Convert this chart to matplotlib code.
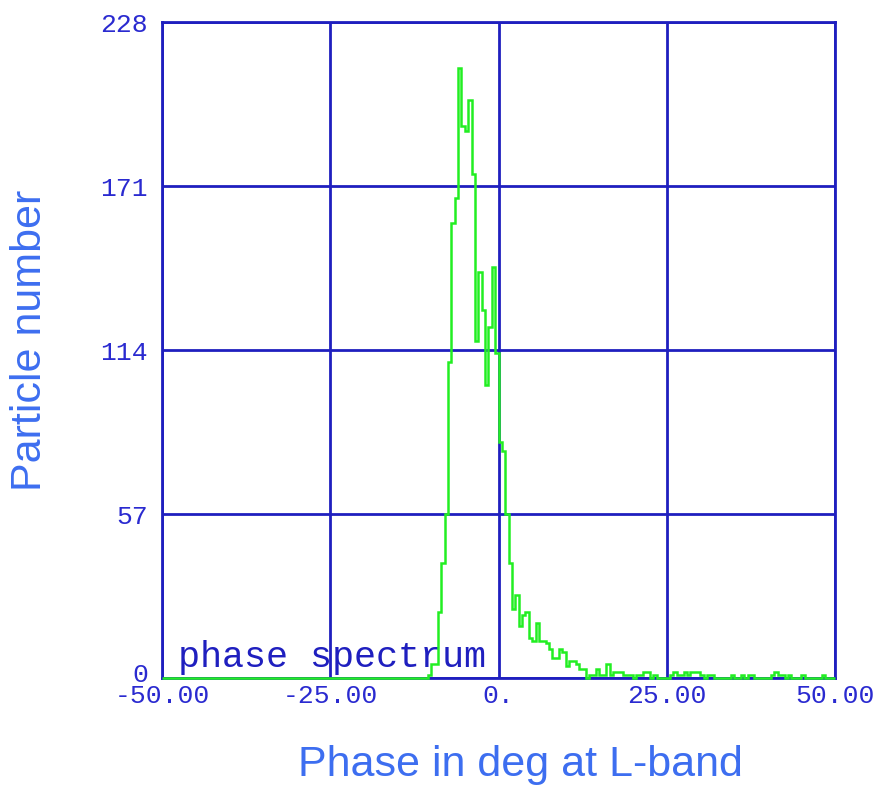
import numpy as np
import matplotlib
matplotlib.use("Agg")
import matplotlib.pyplot as plt
from matplotlib.transforms import ScaledTranslation

# ---- data (0.5 deg bins from -50 to 50) ----
bin_start = -50.0
bin_width = 0.5
counts_left_zero = [0] * 79                      # -50 .. -10.5 deg: empty
counts_peak = [1, 5, 5, 23, 40, 57, 110, 158, 167, 212,
               192, 190, 201, 175, 117, 141, 128, 102, 122, 143,
               113]                               # -10.5 .. 0 deg
counts_fall = [82, 79, 57, 40, 24, 29, 18, 22, 23, 14,
               13, 19, 13, 13, 12, 10, 7, 7, 10, 9,
               4, 6, 6, 5, 3, 3, 0, 1, 1, 3,
               1, 1, 5, 1, 2, 2, 2, 1, 1, 1,
               0, 1, 1, 2, 2, 0, 1, 0]           # 0 .. 24 deg
counts_tail = [0, 0, 0, 1, 2, 1, 1, 2, 1, 2,
               2, 2, 1, 0, 1, 1, 0, 0, 0, 0,
               0, 1, 0, 0, 1, 0, 1, 1, 0, 0,
               0, 0, 0, 1, 2, 1, 1, 0, 1, 0,
               0, 0, 1, 0, 0, 0, 0, 0, 1, 0,
               0, 0]                              # 24 .. 50 deg
counts = np.array(counts_left_zero + counts_peak + counts_fall + counts_tail, dtype=float)
edges = bin_start + bin_width * np.arange(len(counts) + 1)

xticks = [-50, -25, 0, 25, 50]
xticklabels = ["-50.00", "-25.00", "0.", "25.00", "50.00"]
yticks = [0, 57, 114, 171, 228]
yticklabels = ["0", "57", "114", "171", "228"]

grid_col = "#1f1fbf"
tick_col = "#2a2ad0"
label_col = "#3d6ef0"
line_col = "#22ee22"

fig = plt.figure(figsize=(8.8, 7.89), dpi=100)
ax = fig.add_axes([162/880, 1 - 678/789, (835-162)/880, (678-22)/789])

ax.set_xlim(-50, 50)
ax.set_ylim(0, 228)
ax.set_xticks(xticks)
ax.set_xticklabels(xticklabels)
ax.set_yticks(yticks)
ax.set_yticklabels(yticklabels)
ax.grid(True, color=grid_col, linewidth=2)
ax.set_axisbelow(True)
for s in ax.spines.values():
    s.set_color(grid_col)
    s.set_linewidth(2)
ax.tick_params(length=0, labelcolor=tick_col, labelsize=19)
for lab in ax.get_xticklabels() + ax.get_yticklabels():
    lab.set_family("Liberation Mono")
ax.tick_params(axis="x", pad=4)
ax.tick_params(axis="y", pad=10)
# nudge the y "0" label up slightly, as in the reference
ylabs = ax.get_yticklabels()
ylabs[0].set_transform(ylabs[0].get_transform() + ScaledTranslation(0, 6/100, fig.dpi_scale_trans))

ax.stairs(counts, edges, color=line_col, linewidth=1.8, zorder=5, clip_on=False)

ax.text(-47.6, 3.8, "phase spectrum", family="Liberation Mono", fontsize=26.5,
        color=grid_col, ha="left", va="baseline", zorder=4)

fig.text(520/880, 1 - 765/789, "Phase in deg at L-band", family="Liberation Sans",
         fontsize=31, color=label_col, ha="center", va="center")
fig.text(30/880, 1 - 340/789, "Particle number", family="Liberation Sans",
         fontsize=31, color=label_col, ha="center", va="center", rotation=90)

fig.savefig("out.png", dpi=100)
